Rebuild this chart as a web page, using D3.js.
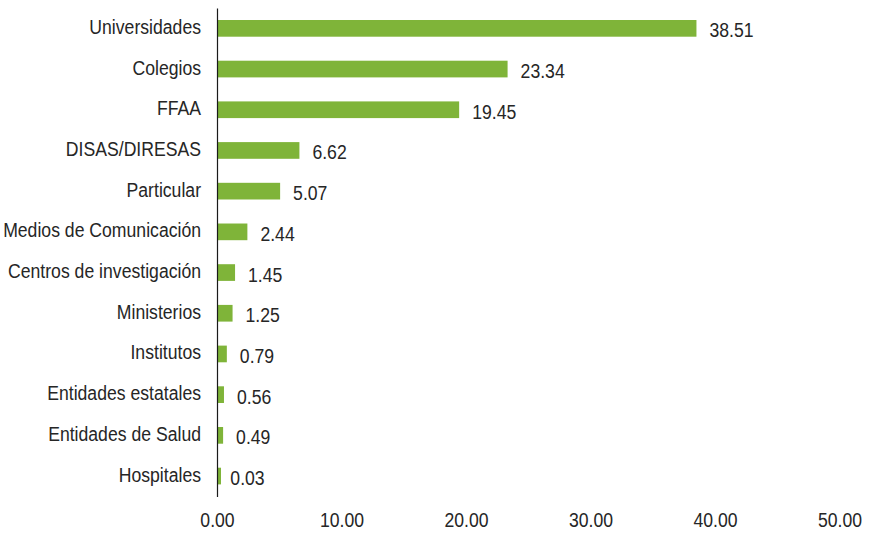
<!DOCTYPE html>
<html>
<head>
<meta charset="utf-8">
<script src="https://cdn.jsdelivr.net/npm/d3@7"></script>
<style>
  html, body { margin: 0; padding: 0; background: #ffffff; }
  svg text { font-family: "Liberation Sans", Arial, sans-serif; fill: #262626; }
</style>
</head>
<body>
<svg id="chart" width="872" height="534"></svg>
<script>
// Institutions and their share (%)
const categories = [
  "Universidades", "Colegios", "FFAA", "DISAS/DIRESAS", "Particular",
  "Medios de Comunicación", "Centros de investigación", "Ministerios",
  "Institutos", "Entidades estatales", "Entidades de Salud", "Hospitales"
];
const values = [38.51, 23.34, 19.45, 6.62, 5.07, 2.44, 1.45, 1.25, 0.79, 0.56, 0.49, 0.03];
const xTicks = [0, 10, 20, 30, 40, 50];

const data = categories.map((c, i) => ({ name: c, value: values[i] }));

const svg = d3.select("#chart");
const fontSize = 21;
const narrow = 0.84;          // condensed lettering
const minBar = 4;             // keep tiny shares visible

const x = d3.scaleLinear().domain([0, 50]).range([217, 839.5]);
const y = d3.scaleBand()
  .domain(categories)
  .range([8, 496.4])
  .paddingInner(0.59)
  .paddingOuter(0.295);

// bars
svg.append("g").selectAll("rect")
  .data(data)
  .join("rect")
  .attr("x", x(0))
  .attr("y", d => y(d.name))
  .attr("width", d => Math.max(x(d.value) - x(0), minBar))
  .attr("height", y.bandwidth())
  .attr("fill", "#7fb439");

// category axis
const yAxis = svg.append("g")
  .attr("transform", `translate(${x(0)},0)`)
  .call(d3.axisLeft(y).tickSize(0).tickPadding(0));
yAxis.select(".domain").attr("stroke", "#1a1a1a").attr("stroke-width", 1.2);
yAxis.selectAll("text")
  .attr("font-size", fontSize)
  .attr("font-family", null)
  .attr("fill", "#262626")
  .attr("x", -16 / narrow)
  .attr("dy", "0.26em")
  .attr("transform", `scale(${narrow},1)`);

// value axis (labels only)
const xAxis = svg.append("g")
  .attr("transform", "translate(0,500)")
  .call(d3.axisBottom(x).tickValues(xTicks).tickSize(0).tickPadding(0).tickFormat(d3.format(".2f")));
xAxis.select(".domain").remove();
xAxis.selectAll("text")
  .attr("font-size", fontSize)
  .attr("font-family", null)
  .attr("fill", "#262626")
  .attr("dy", null)
  .attr("y", 27)
  .attr("transform", `scale(${narrow},1)`);

// value labels
svg.append("g").selectAll("text")
  .data(data)
  .join("text")
  .attr("transform", d => `translate(${x(d.value) + 13},${y(d.name) + y.bandwidth() / 2 + 9}) scale(${narrow},1)`)
  .attr("font-size", fontSize)
  .text(d => d.value.toFixed(2));
</script>
</body>
</html>
